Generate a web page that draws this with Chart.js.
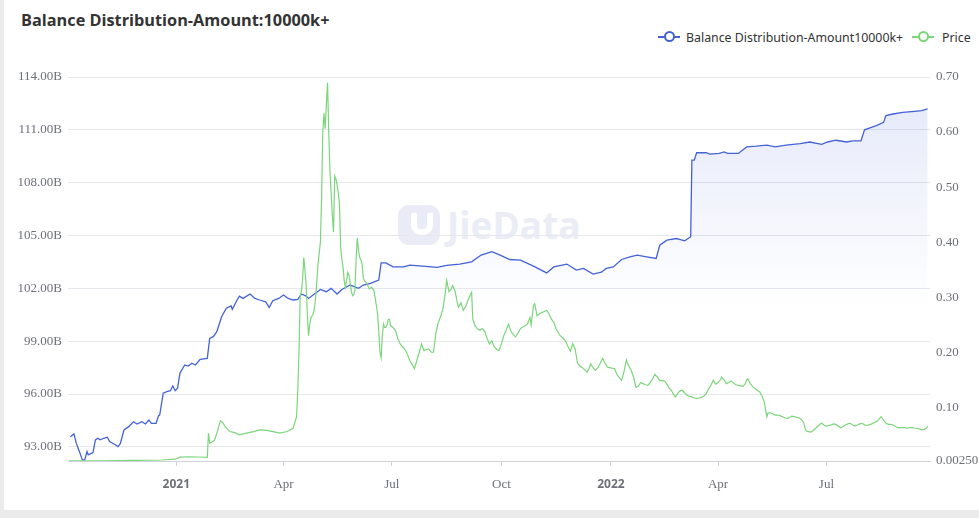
<!DOCTYPE html>
<html>
<head>
<meta charset="utf-8">
<script src="https://cdn.jsdelivr.net/npm/chart.js@4.4.1/dist/chart.umd.min.js"></script>
<style>
html,body{margin:0;padding:0;width:979px;height:518px;overflow:hidden;background:#ebebeb;}
#card{position:absolute;left:4px;top:0;width:975px;height:510px;background:#fff;}
#title{position:absolute;left:21px;top:9px;line-height:20px;font:bold 16.3px "Open Sans",sans-serif;color:#333;white-space:nowrap;}
.lg{position:absolute;top:29px;height:16px;line-height:16px;font:12.35px "Noto Sans",sans-serif;color:#333;white-space:nowrap;}
.ic{position:absolute;top:36px;width:22px;height:2px;}
.dot{position:absolute;width:7px;height:7px;border:2px solid;border-radius:50%;background:#fff;}
#wm{position:absolute;left:398px;top:205px;width:200px;height:44px;}
#wmlogo{position:absolute;left:0;top:0;width:42px;height:40px;border-radius:11px;background:#e9ecf6;}
#wmu{position:absolute;left:13px;top:8px;width:10px;height:16px;border:6px solid #fff;border-top:none;border-radius:0 0 10px 10px;}
#wmtext{position:absolute;left:49px;top:-6px;font:bold 37px "Open Sans",sans-serif;color:#eaedf6;}
canvas{position:absolute;left:0;top:0;}
</style>
</head>
<body>
<div id="card"></div>
<div id="wm"><div id="wmlogo"><div id="wmu"></div></div><div id="wmtext">JieData</div></div>
<div id="title">Balance Distribution-Amount:10000k+</div>
<div class="ic" style="left:658px;background:#4462d8"></div><div class="dot" style="left:664px;top:31px;border-color:#4462d8"></div>
<div class="lg" style="left:686px">Balance Distribution-Amount10000k+</div>
<div class="ic" style="left:912px;background:#7bd67b"></div><div class="dot" style="left:918px;top:31px;border-color:#7bd67b"></div>
<div class="lg" style="left:942px">Price</div>
<canvas id="c" width="979" height="518"></canvas>
<script>
// ---- axis definitions ----
const xStart = '2020-10-02';
const xEnd = '2022-09-26';
const xTickDates = ['2021-01-01','2021-04-01','2021-07-01','2021-10-01','2022-01-01','2022-04-01','2022-07-01'];
const monthNames = ['Jan','Feb','Mar','Apr','May','Jun','Jul','Aug','Sep','Oct','Nov','Dec'];
const balanceTicks = [93,96,99,102,105,108,111,114];
const balanceMin = 92.2, balanceMax = 114;
const priceTicks = [0.0025,0.1,0.2,0.3,0.4,0.5,0.6,0.7];
const priceMin = 0.0025, priceMax = 0.7;

// ---- Balance Distribution-Amount10000k+ (billions) ----
const balanceDates = [
'2020-10-04','2020-10-07','2020-10-09','2020-10-12','2020-10-14','2020-10-16','2020-10-18','2020-10-19','2020-10-23','2020-10-25','2020-10-27','2020-10-29',
'2020-11-01','2020-11-04','2020-11-06','2020-11-11','2020-11-13','2020-11-15','2020-11-18','2020-11-22','2020-11-26','2020-11-29',
'2020-12-03','2020-12-06','2020-12-09','2020-12-11','2020-12-15','2020-12-17','2020-12-18','2020-12-21','2020-12-24','2020-12-27','2020-12-29','2020-12-31',
'2021-01-02','2021-01-04','2021-01-08','2021-01-11','2021-01-14','2021-01-17','2021-01-21','2021-01-27','2021-01-29',
'2021-02-01','2021-02-04','2021-02-08','2021-02-12','2021-02-16','2021-02-17','2021-02-21','2021-02-23','2021-02-26',
'2021-03-04','2021-03-08','2021-03-12','2021-03-17','2021-03-20','2021-03-23','2021-03-28',
'2021-04-01','2021-04-05','2021-04-09','2021-04-13','2021-04-16','2021-04-20','2021-04-22',
'2021-05-02','2021-05-07','2021-05-11','2021-05-16','2021-05-20','2021-05-27',
'2021-06-03','2021-06-07','2021-06-13','2021-06-20','2021-06-22','2021-06-26',
'2021-07-02','2021-07-11','2021-07-16','2021-07-27',
'2021-08-08','2021-08-16','2021-08-27',
'2021-09-06','2021-09-14','2021-09-23','2021-09-30',
'2021-10-08','2021-10-17','2021-10-28',
'2021-11-08','2021-11-14','2021-11-25',
'2021-12-03','2021-12-09','2021-12-17','2021-12-24','2021-12-28',
'2022-01-03','2022-01-10','2022-01-17','2022-01-23','2022-01-31',
'2022-02-08','2022-02-11','2022-02-17','2022-02-25',
'2022-03-04','2022-03-09','2022-03-10','2022-03-12','2022-03-14','2022-03-22','2022-03-25',
'2022-04-02','2022-04-06','2022-04-09','2022-04-18','2022-04-25',
'2022-05-03','2022-05-12','2022-05-19','2022-05-28',
'2022-06-09','2022-06-17','2022-06-27',
'2022-07-02','2022-07-09','2022-07-18','2022-07-23','2022-07-30',
'2022-08-02','2022-08-06','2022-08-12','2022-08-18','2022-08-20','2022-08-26',
'2022-09-03','2022-09-13','2022-09-19','2022-09-24'];
const balanceValues = [
93.58,93.74,93.20,92.66,92.26,92.26,92.73,92.55,92.68,93.40,93.49,93.40,
93.49,93.55,93.30,93.11,93.02,93.20,93.96,94.15,94.43,94.30,
94.43,94.30,94.53,94.34,94.34,94.76,94.81,96.05,96.14,96.19,96.46,96.19,
96.33,97.18,97.65,97.59,97.75,97.65,97.97,98.03,99.16,
99.26,99.54,100.39,100.87,101.00,100.81,101.34,101.56,101.43,
101.68,101.43,101.34,101.24,100.92,101.30,101.43,
101.62,101.43,101.34,101.38,101.68,101.56,101.43,
101.94,101.81,102.00,101.68,101.94,102.19,
102.00,102.19,102.28,102.47,103.45,103.45,
103.22,103.22,103.32,103.26,
103.19,103.30,103.38,
103.51,103.89,104.08,103.89,
103.64,103.60,103.26,
102.88,103.22,103.38,
103.04,103.13,102.81,102.92,103.13,
103.22,103.64,103.79,103.89,103.79,
103.70,104.45,104.74,104.83,
104.70,104.93,109.28,109.28,109.70,109.70,109.62,
109.66,109.75,109.66,109.66,110.03,
110.07,110.13,110.03,110.13,
110.22,110.31,110.18,
110.31,110.41,110.31,110.37,110.37,
111.00,111.10,111.24,111.43,111.81,111.90,
111.99,112.05,112.09,112.19];

// ---- Price ----
const priceDates = [
'2020-10-03','2020-11-01','2020-11-25','2020-12-20','2020-12-31',
'2021-01-04','2021-01-10','2021-01-20','2021-01-27','2021-01-28','2021-01-29','2021-01-31',
'2021-02-02','2021-02-04','2021-02-07','2021-02-09','2021-02-11','2021-02-15','2021-02-19','2021-02-23',
'2021-03-01','2021-03-07','2021-03-12','2021-03-18','2021-03-23','2021-03-29',
'2021-04-04','2021-04-09','2021-04-12','2021-04-13','2021-04-14','2021-04-15','2021-04-16','2021-04-17','2021-04-18','2021-04-19','2021-04-20','2021-04-21','2021-04-22','2021-04-23','2021-04-24','2021-04-25','2021-04-26','2021-04-27','2021-04-28','2021-04-29','2021-04-30',
'2021-05-01','2021-05-02','2021-05-03','2021-05-04','2021-05-05','2021-05-06','2021-05-07','2021-05-08','2021-05-09','2021-05-10','2021-05-11','2021-05-12','2021-05-13','2021-05-14','2021-05-15','2021-05-16','2021-05-17','2021-05-18','2021-05-19','2021-05-20','2021-05-21','2021-05-22','2021-05-23','2021-05-24','2021-05-25','2021-05-26','2021-05-27','2021-05-28','2021-05-29','2021-05-30','2021-05-31',
'2021-06-01','2021-06-02','2021-06-03','2021-06-04','2021-06-05','2021-06-06','2021-06-07','2021-06-08','2021-06-10','2021-06-12','2021-06-14','2021-06-16','2021-06-18','2021-06-19','2021-06-20','2021-06-21','2021-06-22','2021-06-23','2021-06-24','2021-06-25','2021-06-26','2021-06-27','2021-06-28','2021-06-29','2021-06-30',
'2021-07-02','2021-07-04','2021-07-06','2021-07-08','2021-07-10','2021-07-12','2021-07-14','2021-07-16','2021-07-18','2021-07-20','2021-07-22','2021-07-24','2021-07-26','2021-07-28','2021-07-30',
'2021-08-01','2021-08-03','2021-08-05','2021-08-07','2021-08-09','2021-08-11','2021-08-13','2021-08-15','2021-08-16','2021-08-18','2021-08-20','2021-08-21','2021-08-23','2021-08-25','2021-08-26','2021-08-28','2021-08-30',
'2021-09-01','2021-09-03','2021-09-05','2021-09-06','2021-09-07','2021-09-09','2021-09-11','2021-09-13','2021-09-15','2021-09-17','2021-09-19','2021-09-21','2021-09-23','2021-09-25','2021-09-27','2021-09-29',
'2021-10-01','2021-10-03','2021-10-05','2021-10-07','2021-10-09','2021-10-11','2021-10-13','2021-10-15','2021-10-17','2021-10-19','2021-10-21','2021-10-23','2021-10-25','2021-10-26','2021-10-28','2021-10-29','2021-10-31',
'2021-11-02','2021-11-04','2021-11-06','2021-11-08','2021-11-10','2021-11-12','2021-11-14','2021-11-16','2021-11-18','2021-11-19','2021-11-22','2021-11-24','2021-11-26','2021-11-28','2021-11-30',
'2021-12-02','2021-12-04','2021-12-06','2021-12-08','2021-12-10','2021-12-12','2021-12-14','2021-12-15','2021-12-17','2021-12-19','2021-12-21','2021-12-23','2021-12-25','2021-12-27','2021-12-29','2021-12-31',
'2022-01-02','2022-01-04','2022-01-06','2022-01-08','2022-01-10','2022-01-12','2022-01-14','2022-01-16','2022-01-18','2022-01-20','2022-01-22','2022-01-24','2022-01-26','2022-01-28','2022-01-30',
'2022-02-01','2022-02-03','2022-02-05','2022-02-07','2022-02-09','2022-02-11','2022-02-13','2022-02-15','2022-02-17','2022-02-19','2022-02-21','2022-02-23','2022-02-24','2022-02-26','2022-02-28',
'2022-03-02','2022-03-04','2022-03-06','2022-03-08','2022-03-10','2022-03-12','2022-03-14','2022-03-16','2022-03-18','2022-03-20','2022-03-22','2022-03-24','2022-03-26','2022-03-28','2022-03-30',
'2022-04-01','2022-04-03','2022-04-04','2022-04-06','2022-04-08','2022-04-10','2022-04-12','2022-04-14','2022-04-16','2022-04-18','2022-04-20','2022-04-22','2022-04-24','2022-04-25','2022-04-26','2022-04-28','2022-04-30',
'2022-05-02','2022-05-04','2022-05-06','2022-05-08','2022-05-10','2022-05-11','2022-05-12','2022-05-13','2022-05-15','2022-05-17','2022-05-19','2022-05-21','2022-05-23','2022-05-25','2022-05-27','2022-05-29','2022-05-31',
'2022-06-02','2022-06-04','2022-06-06','2022-06-08','2022-06-10','2022-06-12','2022-06-13','2022-06-14','2022-06-16','2022-06-18','2022-06-20','2022-06-22','2022-06-24','2022-06-26','2022-06-27','2022-06-29',
'2022-07-01','2022-07-03','2022-07-05','2022-07-07','2022-07-09','2022-07-11','2022-07-13','2022-07-15','2022-07-17','2022-07-19','2022-07-21','2022-07-23','2022-07-25','2022-07-27','2022-07-29','2022-07-31',
'2022-08-02','2022-08-04','2022-08-06','2022-08-08','2022-08-10','2022-08-12','2022-08-14','2022-08-16','2022-08-18','2022-08-20','2022-08-22','2022-08-24','2022-08-26','2022-08-28','2022-08-30',
'2022-09-01','2022-09-03','2022-09-05','2022-09-07','2022-09-09','2022-09-11','2022-09-13','2022-09-15','2022-09-17','2022-09-19','2022-09-21','2022-09-23','2022-09-24'];
const priceValues = [
0.0026,0.0027,0.0035,0.0043,0.0058,
0.0095,0.0102,0.0098,0.0093,0.053,0.035,0.037,
0.040,0.053,0.0757,0.072,0.065,0.056,0.054,0.050,
0.053,0.056,0.059,0.058,0.056,0.053,
0.056,0.062,0.083,0.131,0.20,0.30,0.31,0.33,0.372,0.35,0.324,0.27,0.23,0.25,0.263,0.266,0.27,0.28,0.30,0.33,0.36,
0.38,0.40,0.48,0.60,0.634,0.606,0.65,0.69,0.60,0.53,0.49,0.45,0.418,0.52,0.515,0.505,0.49,0.47,0.39,0.37,0.355,0.33,0.318,0.33,0.345,0.34,0.325,0.31,0.303,0.305,0.312,
0.37,0.408,0.385,0.372,0.368,0.36,0.335,0.33,0.325,0.315,0.318,0.312,0.285,0.27,0.24,0.20,0.19,0.23,0.251,0.245,0.245,0.25,0.26,0.26,0.248,
0.245,0.24,0.225,0.215,0.21,0.205,0.197,0.185,0.178,0.170,0.185,0.20,0.215,0.203,0.205,
0.206,0.20,0.20,0.235,0.254,0.265,0.28,0.31,0.331,0.31,0.315,0.321,0.312,0.29,0.282,0.29,0.276,
0.283,0.295,0.305,0.309,0.26,0.248,0.242,0.24,0.243,0.238,0.225,0.215,0.221,0.21,0.205,0.203,
0.215,0.23,0.24,0.251,0.238,0.232,0.228,0.235,0.243,0.246,0.248,0.252,0.263,0.25,0.285,0.288,0.266,
0.27,0.272,0.274,0.276,0.27,0.26,0.255,0.242,0.235,0.231,0.225,0.22,0.21,0.202,0.216,
0.205,0.18,0.175,0.172,0.168,0.164,0.172,0.179,0.172,0.167,0.172,0.18,0.189,0.18,0.173,0.172,
0.171,0.17,0.16,0.154,0.149,0.165,0.186,0.175,0.167,0.155,0.136,0.138,0.145,0.143,0.141,
0.140,0.145,0.152,0.160,0.155,0.149,0.148,0.148,0.142,0.135,0.130,0.122,0.119,0.125,0.13,
0.131,0.126,0.122,0.12,0.119,0.117,0.116,0.117,0.118,0.12,0.125,0.133,0.14,0.149,0.142,
0.145,0.15,0.155,0.150,0.143,0.145,0.148,0.144,0.141,0.14,0.139,0.138,0.143,0.150,0.152,0.143,0.138,
0.134,0.131,0.128,0.12,0.108,0.095,0.083,0.09,0.090,0.088,0.086,0.086,0.085,0.083,0.081,0.080,0.081,
0.084,0.083,0.082,0.081,0.078,0.072,0.063,0.057,0.056,0.055,0.058,0.062,0.066,0.070,0.071,0.068,
0.066,0.067,0.068,0.070,0.069,0.066,0.063,0.065,0.068,0.070,0.071,0.068,0.066,0.068,0.070,0.071,
0.068,0.067,0.068,0.070,0.072,0.074,0.078,0.083,0.077,0.071,0.069,0.069,0.068,0.065,0.063,
0.063,0.063,0.063,0.062,0.063,0.063,0.062,0.062,0.061,0.059,0.060,0.062,0.066];

const toMs = s => { const p = s.split('-').map(Number); return Date.UTC(p[0], p[1]-1, p[2]); };
const zip = (ds, vs) => ds.slice(0, Math.min(ds.length, vs.length)).map((d,i) => ({x: toMs(d), y: vs[i]}));
const yearTick = v => { const d = new Date(v); return d.getUTCMonth() === 0; };

const BLUE = '#4462d8', GREEN = '#7bd67b';

new Chart(document.getElementById('c'), {
  type: 'line',
  data: {
    datasets: [
      {
        label: 'Balance Distribution-Amount10000k+',
        data: zip(balanceDates, balanceValues),
        yAxisID: 'yL',
        borderColor: BLUE,
        borderWidth: 1.3,
        pointRadius: 0,
        tension: 0,
        order: 2,
        fill: 'start',
        backgroundColor: (ctx) => {
          const ca = ctx.chart.chartArea;
          if (!ca) return 'rgba(0,0,0,0)';
          const g = ctx.chart.ctx.createLinearGradient(0, ca.top, 0, ca.bottom);
          g.addColorStop(0, 'rgba(68,98,216,0.15)');
          g.addColorStop(0.6, 'rgba(68,98,216,0.0)');
          g.addColorStop(1, 'rgba(68,98,216,0.0)');
          return g;
        }
      },
      {
        label: 'Price',
        data: zip(priceDates, priceValues),
        yAxisID: 'yR',
        borderColor: GREEN,
        borderWidth: 1.2,
        pointRadius: 0,
        tension: 0,
        order: 1,
        fill: false
      }
    ]
  },
  options: {
    responsive: false,
    animation: false,
    devicePixelRatio: 1,
    layout: { padding: { top: 77, left: 0, right: 0, bottom: 0 } },
    plugins: { legend: { display: false }, tooltip: { enabled: false }, title: { display: false } },
    scales: {
      x: {
        type: 'linear',
        min: toMs(xStart),
        max: toMs(xEnd),
        afterBuildTicks: (axis) => { axis.ticks = xTickDates.map(d => ({ value: toMs(d) })); },
        afterFit: (axis) => { axis.height = 57; },
        grid: { drawOnChartArea: false, drawTicks: true, tickLength: 5, color: '#d0d3da' },
        border: { display: true, color: '#d0d3da' },
        ticks: {
          autoSkip: false,
          maxRotation: 0,
          padding: 11,
          color: '#6e7079',
          font: (ctx) => (ctx.tick && yearTick(ctx.tick.value))
            ? { family: '"Noto Sans", sans-serif', size: 12, weight: 'bold' }
            : { family: '"Liberation Serif", serif', size: 13 },
          callback: (v) => { const d = new Date(v); return d.getUTCMonth() === 0 ? String(d.getUTCFullYear()) : monthNames[d.getUTCMonth()]; }
        }
      },
      yL: {
        position: 'left',
        min: balanceMin,
        max: balanceMax,
        afterBuildTicks: (axis) => { axis.ticks = balanceTicks.map(v => ({ value: v })); },
        afterFit: (axis) => { axis.width = 68; },
        grid: { color: '#e6e8ee', drawTicks: false, lineWidth: 1 },
        border: { display: false },
        ticks: {
          padding: 6,
          color: '#6e7079',
          font: { family: '"Liberation Serif", serif', size: 13 },
          callback: (v) => Number(v).toFixed(2) + 'B'
        }
      },
      yR: {
        position: 'right',
        min: priceMin,
        max: priceMax,
        afterBuildTicks: (axis) => { axis.ticks = priceTicks.map(v => ({ value: v })); },
        afterFit: (axis) => { axis.width = 49; },
        grid: { drawOnChartArea: false, drawTicks: false },
        border: { display: false },
        ticks: {
          padding: 6,
          color: '#6e7079',
          font: { family: '"Liberation Serif", serif', size: 13 },
          callback: (v) => v === 0.0025 ? '0.00250' : Number(v).toFixed(2)
        }
      }
    }
  }
});
</script>
</body>
</html>
